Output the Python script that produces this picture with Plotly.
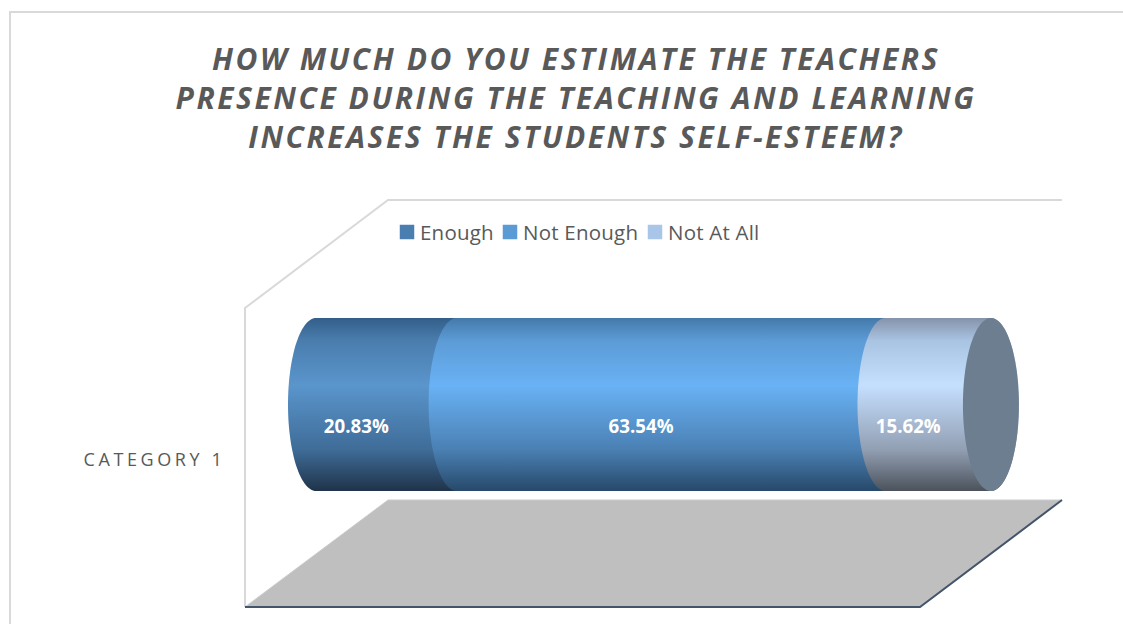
import numpy as np
import plotly.graph_objects as go

# Chart content
title_lines = [
    "HOW MUCH DO YOU ESTIMATE THE TEACHERS",
    "PRESENCE DURING THE TEACHING AND LEARNING",
    "INCREASES THE STUDENTS SELF-ESTEEM?",
]
category = "CATEGORY 1"
series_names = ["Enough", "Not Enough", "Not At All"]
series_values = [20.83, 63.54, 15.62]
legend_colors = ["#4a7eb1", "#5b9bd5", "#a9c5e8"]
body_gradients = [
    ["#335e89", "#4a7dae", "#5a95cc", "#3f6c98", "#1f3349"],
    ["#447aa9", "#5c9bd6", "#69b2f5", "#4a80b3", "#27496a"],
    ["#8593aa", "#a9c3e2", "#c5dfff", "#929fb3", "#4b525b"],
]
gradient_stops = [0, 0.13, 0.39, 0.76, 1]
cap_color = "#6d7e91"

# Page geometry, in pixels of the 1123x624 page
W, H = 1123, 624
L, R, T, B = 245, 1062, 200, 607
PX_PER_PCT = 6.75
ZERO_PX = 316
CYL_TOP, CYL_BOTTOM = 318, 491
CAP_HALF_W = 28


def px_x(p):
    return (p - L) / (R - L)


def px_y(p):
    return (B - p) / (B - T)


def path(points, close=False):
    d = "M " + " L ".join(f"{px_x(x):.5f},{px_y(y):.5f}" for x, y in points)
    return d + (" Z" if close else "")


x_range = [(L - ZERO_PX) / PX_PER_PCT, (R - ZERO_PX) / PX_PER_PCT]
y_mid = px_y((CYL_TOP + CYL_BOTTOM) / 2)
y_half = (CYL_BOTTOM - CYL_TOP) / 2 / (B - T)
cap_w = CAP_HALF_W / PX_PER_PCT
category_y = px_y(460)

edges = np.concatenate([[0.0], np.cumsum(series_values)])
theta = np.linspace(0, np.pi, 61)


def cylinder_segment(x0, x1):
    # Bulging left end at x0, top edge, then bulging right end at x1
    left_x = x0 - cap_w * np.sin(theta)
    left_y = y_mid - y_half * np.cos(theta)
    right_x = x1 + cap_w * np.sin(theta)
    right_y = y_mid + y_half * np.cos(theta)
    return np.r_[left_x, right_x, left_x[0]], np.r_[left_y, right_y, left_y[0]]


fig = go.Figure()

for i, name in enumerate(series_names):
    sx, sy = cylinder_segment(edges[i], edges[i + 1])
    fig.add_trace(go.Scatter(
        x=sx, y=sy, mode="none", fill="toself", showlegend=False,
        fillgradient=dict(
            type="vertical",
            colorscale=list(zip(gradient_stops, body_gradients[i])),
            start=y_mid + y_half, stop=y_mid - y_half,
        ),
        hoverinfo="skip",
    ))

# Far end of the cylinder
end_t = np.linspace(0, 2 * np.pi, 121)
fig.add_trace(go.Scatter(
    x=edges[-1] + cap_w * np.cos(end_t), y=y_mid + y_half * np.sin(end_t),
    mode="none", fill="toself", fillcolor=cap_color, showlegend=False, hoverinfo="skip",
))

# Value labels sit left of each segment's centre, following the 3D projection
label_shift = 30 / PX_PER_PCT
fig.add_trace(go.Scatter(
    x=(edges[:-1] + edges[1:]) / 2 - label_shift,
    y=[px_y(428)] * len(series_values),
    mode="text",
    text=[f"{v:.2f}%" for v in series_values],
    textposition="middle center",
    textfont=dict(family="Open Sans", size=18.7, color="white", weight=700),
    showlegend=False, hoverinfo="skip",
))

# Legend entries
for name, color in zip(series_names, legend_colors):
    fig.add_trace(go.Scatter(
        x=[None], y=[None], mode="markers", name=name,
        marker=dict(symbol="square", size=14.5, color=color),
    ))

grid = "#d9d9d9"
shapes = [
    # Outer chart frame
    dict(type="path", xref="paper", yref="paper", layer="below",
         path=path([(10, H + 2), (10, 12), (W + 2, 12)]),
         line=dict(color=grid, width=2)),
    # Back and side walls
    dict(type="path", xref="paper", yref="paper", layer="below",
         path=path([(245, 607), (245, 308), (388, 200), (1062, 200)]),
         line=dict(color=grid, width=2)),
    # Floor
    dict(type="path", xref="paper", yref="paper", layer="below",
         path=path([(245, 607), (388, 500), (1062, 500), (920, 607)], close=True),
         fillcolor="#bfbfbf", line=dict(color="#c9cdd1", width=1)),
    dict(type="path", xref="paper", yref="paper", layer="below",
         path=path([(245, 607), (920, 607), (1062, 500)]),
         line=dict(color="#44546a", width=2)),
]

fig.update_layout(
    width=W, height=H,
    margin=dict(l=L, r=W - R, t=T, b=H - B, pad=0),
    paper_bgcolor="white", plot_bgcolor="rgba(0,0,0,0)",
    title=dict(
        text="<br>".join(title_lines),
        font=dict(family="Open Sans", size=30, color="#595959", weight=700, style="italic"),
        x=576 / W, xanchor="center", xref="container", y=1 - 70 / H, yanchor="top",
    ),
    xaxis=dict(range=x_range, visible=False, fixedrange=True),
    yaxis=dict(
        range=[0, 1], tickmode="array", tickvals=[category_y], ticktext=[category],
        showgrid=False, zeroline=False, showline=False, ticks="outside", ticklen=15,
        tickcolor="rgba(0,0,0,0)", fixedrange=True,
        tickfont=dict(family="Open Sans", size=18, color="#595959"),
    ),
    legend=dict(
        orientation="h", x=px_x(380), y=px_y(218), xanchor="left", yanchor="top",
        bgcolor="rgba(0,0,0,0)",
        font=dict(family="Open Sans", size=20.5, color="#595959"),
    ),
    shapes=shapes,
    showlegend=True,
)

# Letter spacing and legend entry placement are not layout options, so they go in as CSS
css = """
.gtitle{letter-spacing:2.55px}
.ytick text{letter-spacing:3.6px}
.legend text{letter-spacing:0.22px}
.legend .traces:nth-child(1){transform:translate(0px,14px)}
.legend .traces:nth-child(2){transform:translate(103px,14px)}
.legend .traces:nth-child(3){transform:translate(248px,14px)}
.legend .legendsymbols{transform:translateX(7px)}
"""
post = "var s=document.createElement('style');s.textContent=" + repr(css.replace("\n", "")) + ";document.head.appendChild(s);"
fig.write_html("out.html", post_script=post, config={"displayModeBar": False})
